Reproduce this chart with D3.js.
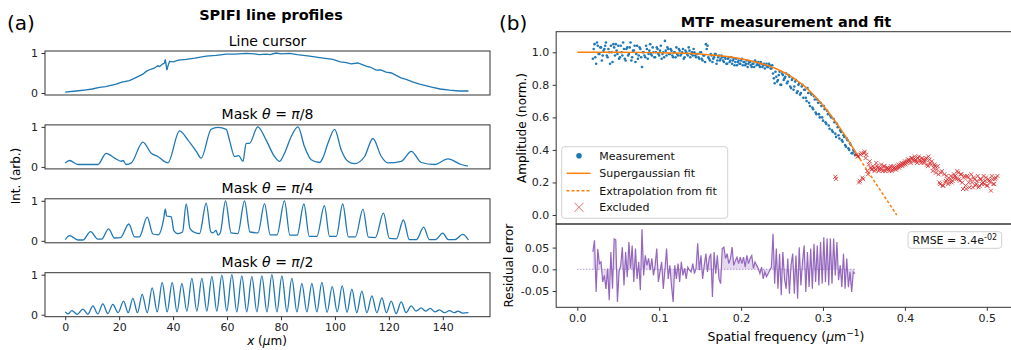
<!DOCTYPE html>
<html>
<head>
<meta charset="utf-8">
<script src="https://cdn.jsdelivr.net/npm/d3@7"></script>
<style>
  body { margin: 0; background: #fff; }
  svg { font-family: "DejaVu Sans", sans-serif; }
</style>
</head>
<body>
<svg id="chart" width="1011" height="350"></svg>
<script>
// ---- panel (a): line profiles, [x (um), intensity] ----
const cursorProfile = [[0,0.02],[4,0.05],[7.8,0.08],[10,0.1],[12.7,0.14],[15,0.16],[18.9,0.22],[21,0.27],[23.8,0.31],[26,0.38],[28.8,0.47],[30,0.54],[31.9,0.6],[33,0.62],[34.3,0.68],[35,0.66],[36,0.72],[36.8,0.75],[37.1,0.84],[37.7,0.57],[38.3,0.72],[38.7,0.79],[40,0.78],[42,0.82],[44.9,0.84],[48,0.87],[52.3,0.92],[56,0.94],[59.7,0.97],[63,0.97],[67.1,0.99],[70,0.98],[72,0.96],[74.5,0.97],[76,0.96],[78.2,1.0],[80,0.98],[83.2,0.99],[86,0.96],[90.6,0.92],[95,0.88],[99.2,0.84],[102,0.78],[104.2,0.76],[106,0.73],[108.5,0.75],[111.6,0.67],[113,0.65],[115.3,0.57],[117,0.58],[119,0.52],[121,0.5],[122.7,0.44],[124.5,0.38],[126.4,0.34],[129,0.27],[131.4,0.22],[134,0.18],[136.3,0.14],[139,0.1],[142.5,0.07],[146,0.05],[149.5,0.05]];

const pi8Profile = [[0,0.1],[1.6,0.16],[4.7,0.06],[12.1,0.06],[15.2,0.34],[18.3,0.22],[20.75,0.14],[21.4,0.16],[22.6,0.06],[24.5,0.1],[28.8,0.62],[31.9,0.34],[34.3,0.26],[38.05,0.1],[42.4,0.9],[45.5,0.67],[48.6,0.39],[50.4,0.22],[54.1,0.94],[56.6,0.99],[59.7,0.94],[60.9,0.67],[62.8,0.26],[64.3,0.28],[65.9,0.14],[67.1,0.59],[68.3,0.59],[71.4,1.0],[74.5,0.67],[77.6,0.26],[79.5,0.14],[81.3,0.34],[83.8,0.76],[86.3,1.0],[88.7,0.51],[91.2,0.18],[94.3,0.11],[95.5,0.22],[97.4,0.59],[99.9,0.94],[102.3,0.43],[104.8,0.14],[107.3,0.08],[111,0.26],[114.1,0.71],[117.2,0.26],[119.6,0.1],[124.6,0.14],[128.3,0.39],[132,0.11],[136.9,0.06],[141.9,0.2],[146.8,0.06],[149.3,0.02]];

const pi4Profile = [[0,0.03],[1.6,0.13],[4.7,0.02],[6.5,0.02],[9.4,0.23],[12.1,0.04],[13.5,0.04],[16.05,0.3],[18.3,0.07],[20.5,0.08],[23.6,0.42],[25.7,0.1],[27.5,0.1],[30.4,0.59],[32.5,0.17],[34.5,0.15],[36.5,0.55],[37.1,0.79],[37.6,0.62],[39.3,0.6],[40.3,0.25],[41.8,0.18],[43.5,0.22],[44.85,0.92],[46.3,0.3],[48.6,0.19],[49.8,0.18],[52.27,0.94],[54,0.22],[54.74,0.2],[55.97,0.26],[56.6,0.14],[57.5,0.2],[59.44,1.0],[61.5,0.2],[64,0.18],[66.48,1.0],[68.5,0.22],[71.5,0.2],[73.9,0.93],[76,0.15],[78.5,0.15],[81.3,1.0],[83.3,0.14],[86,0.14],[88.5,0.92],[90.5,0.11],[93.3,0.11],[96.1,0.88],[98,0.11],[100.5,0.11],[102.9,0.92],[105,0.1],[107.6,0.1],[110.4,0.79],[112.4,0.09],[115,0.08],[118,0.69],[120.2,0.06],[122.8,0.05],[125.4,0.52],[127.6,0.03],[130.2,0.03],[132.9,0.34],[135,0.03],[137.3,0.03],[140,0.19],[142,0.03],[144.5,0.03],[147.4,0.16],[149.5,0.02]];

const pi2Profile = [[0,0.07],[1,0.02],[2.46,0.1],[4.5,0.01],[6.54,0.14],[8.4,0.01],[10.25,0.22],[12.1,0.02],[13.95,0.27],[15.8,0.03],[17.66,0.26],[19.6,0.05],[21.62,0.34],[23.35,0.05],[25.08,0.41],[26.8,0.05],[28.54,0.51],[30.4,0.05],[32.25,0.67],[34.1,0.07],[35.95,0.81],[37.8,0.07],[39.66,0.81],[41.45,0.07],[43.25,0.78],[45.1,0.09],[46.95,0.91],[48.8,0.09],[50.66,0.91],[52.5,0.09],[54.37,0.95],[56.2,0.09],[58.08,0.99],[59.9,0.09],[61.78,1.0],[63.6,0.07],[65.49,0.97],[67.3,0.07],[69.2,0.95],[71.05,0.07],[72.91,0.97],[74.8,0.07],[76.62,1.0],[78.5,0.07],[80.33,0.97],[82.2,0.07],[84.03,0.91],[85.9,0.07],[87.74,0.78],[89.6,0.07],[91.45,0.78],[93.3,0.07],[95.16,0.81],[97.1,0.06],[98.99,0.7],[100.85,0.07],[102.7,0.72],[104.5,0.06],[106.28,0.64],[108.1,0.05],[109.99,0.59],[111.85,0.05],[113.7,0.47],[115.55,0.05],[117.41,0.42],[119.1,0.05],[120.87,0.34],[122.7,0.03],[124.57,0.32],[126.4,0.05],[128.28,0.22],[130.1,0.09],[131.99,0.17],[133.6,0.09],[135.33,0.16],[137.1,0.07],[138.79,0.12],[140.6,0.05],[142.49,0.1],[144.3,0.05],[145.6,0.09],[147.4,0.04],[149.5,0.05]];

const profileTitles = [
  [["Line cursor", false]],
  [["Mask ", false], ["\u03b8", true], [" = ", false], ["\u03c0", true], ["/8", false]],
  [["Mask ", false], ["\u03b8", true], [" = ", false], ["\u03c0", true], ["/4", false]],
  [["Mask ", false], ["\u03b8", true], [" = ", false], ["\u03c0", true], ["/2", false]]
];
const profileTicksX = [0, 20, 40, 60, 80, 100, 120, 140];

// ---- panel (b): MTF ----
// measurement samples, two interleaved sets (odd/even frequency bins)
const measStart = 0.019, measStep = 0.002;
const measAmp = [
  0.96,1.05,0.93,1.04,0.99,1.03,0.98,1.02,1.06,0.97,1.0,1.04,0.94,1.03,1.05,
  0.99,0.96,1.04,0.98,1.02,0.95,1.03,0.99,1.06,0.97,1.01,0.94,1.04,0.98,1.02,0.91,
  1.0,0.97,1.02,0.99,1.05,0.98,1.0,0.97,1.03,0.99,1.01,0.96,1.0,1.07,0.98,1.02,
  0.99,1.01,0.97,1.0,1.03,0.98,1.01,0.99,1.02,0.97,1.0,0.98,1.01,0.99,0.98,1.0,
  0.97,0.99,0.96,1.0,0.95,0.98,1.05,1.04,0.96,0.99,0.94,0.97,0.99,0.95,0.98,0.96,
  0.97,0.94,0.96,0.93,0.97,0.95,0.93,0.96,0.94,0.92,0.95,0.93,0.96,0.94,0.92,0.95,
  0.93,0.94,0.91,0.93,0.95,0.92,0.94,0.91,0.93,0.92,0.9,0.93,0.91,0.92,0.9,
  0.87,0.81,0.85,0.83,0.88,0.8,0.86,0.84,0.87,0.82,0.85,
  0.78,0.84,0.79,0.83,0.76,0.81,0.75,0.8,0.77,0.72,
  0.78,0.69,0.75,0.66,0.73,0.63,0.71,0.62,0.69,0.6,
  0.67,0.57,0.64,0.55,0.61,0.52,0.59,0.5,0.56,0.49,
  0.52,0.46,0.49,0.43,0.47,0.41,0.44,0.38,0.4,0.37
];
const measStartB = 0.020;
const measAmpB = [
  1.02,0.97,1.06,0.99,1.03,0.95,1.01,1.04,0.98,1.02,0.93,1.0,1.05,0.98,1.01,
  1.04,0.97,1.0,1.06,0.96,1.02,0.98,1.03,0.95,1.01,1.04,0.99,0.96,1.03,0.97,1.0,
  0.98,1.04,0.96,1.01,0.99,1.03,0.97,1.0,1.02,0.98,1.04,0.99,0.97,1.01,1.03,0.99,
  1.02,0.98,1.0,0.97,0.99,1.02,0.98,1.0,0.96,1.01,0.99,1.03,0.97,1.0,1.02,0.98,
  0.99,0.97,1.0,0.96,0.98,0.94,1.02,0.97,0.95,0.98,0.96,0.99,0.93,0.97,0.95,0.98,
  0.95,0.97,0.93,0.96,0.94,0.97,0.95,0.92,0.96,0.94,0.93,0.95,0.92,0.94,0.93,0.91,
  0.94,0.92,0.93,0.91,0.94,0.93,0.92,0.94,0.91,0.93,0.92,0.91,0.93,0.9,0.92,
  0.84,0.88,0.82,0.86,0.8,0.87,0.83,0.85,0.81,0.86,0.79,
  0.83,0.77,0.82,0.75,0.8,0.74,0.79,0.72,0.77,0.7,
  0.75,0.67,0.74,0.65,0.71,0.62,0.69,0.6,0.67,0.58,
  0.65,0.56,0.62,0.53,0.6,0.51,0.57,0.48,0.54,0.47,
  0.51,0.45,0.48,0.42,0.46,0.4,0.43,0.38,0.39
];
const residual = [
  0.040,0.067,-0.052,0.047,0.013,0.017,-0.029,-0.014,-0.045,0.002,
  -0.071,0.040,-0.045,0.070,0.068,-0.075,-0.006,0.009,0.051,-0.037,
  0.040,-0.018,0.063,0.002,0.055,-0.029,0.048,-0.022,0.017,-0.048,
  0.092,-0.014,0.032,0.009,0.025,-0.002,0.025,-0.014,0.009,0.048,
  -0.029,-0.006,0.017,-0.045,-0.002,0.048,-0.022,0.009,-0.037,-0.075,
  0.009,-0.022,0.013,-0.029,0.017,-0.014,0.002,-0.022,0.005,-0.002,
  -0.006,0.013,-0.010,0.002,0.060,-0.002,0.032,-0.022,0.009,0.036,
  -0.006,0.025,0.036,-0.064,0.040,-0.010,0.032,-0.022,-0.033,0.048,
  0.051,0.025,0.036,0.013,0.025,0.051,0.009,0.020,0.028,0.013,
  0.028,0.013,0.028,0.005,0.032,0.013,0.025,0.032,0.002,0.017,
  0.009,0.002,-0.010,0.005,-0.022,-0.006,-0.017,-0.010,-0.002,0.005,
  0.082,-0.033,0.048,-0.045,0.036,-0.060,0.040,-0.022,-0.045,0.025,
  -0.056,0.009,0.036,-0.056,0.032,-0.068,0.051,-0.037,0.017,0.055,
  -0.052,0.040,-0.041,0.048,-0.045,0.059,-0.029,0.055,-0.037,0.063,
  -0.033,0.074,-0.029,0.071,-0.037,0.071,-0.033,0.071,-0.014,0.063,
  -0.025,0.009,-0.041,0.036,-0.045,0.025,-0.041,-0.006,-0.052,-0.006,
  -0.010
];
const exclStart = 0.341, exclStep = 0.002;
const exclAmp = [
  0.37,0.36,0.21,0.38,0.22,0.39,0.37,0.25,0.33,0.28,
  0.30,0.27,0.32,0.29,0.28,0.31,0.27,0.30,0.28,0.29,
  0.27,0.30,0.28,0.29,0.28,0.30,0.29,0.31,0.30,0.32,
  0.31,0.33,0.34,0.32,0.35,0.33,0.34,0.32,0.36,0.33,
  0.35,0.32,0.34,0.31,0.36,0.32,0.33,0.29,0.30,0.28,
  0.25,0.19,0.27,0.18,0.20,0.24,0.19,0.22,0.20,0.23,
  0.24,0.22,0.26,0.21,0.25,0.16,0.24,0.16,0.23,0.17,
  0.25,0.17,0.22,0.19,0.24,0.18,0.22,0.20,0.19,0.23,
  0.18,0.21,0.15,0.22,0.19,0.23,0.24
];
const exclStartB = 0.342;
const exclAmpB = [
  0.36,0.20,0.37,0.23,0.38,0.35,0.27,0.31,0.29,0.28,
  0.29,0.28,0.30,0.27,0.29,0.28,0.30,0.27,0.29,0.28,
  0.29,0.27,0.30,0.28,0.29,0.31,0.30,0.32,0.31,0.33,
  0.32,0.34,0.33,0.35,0.34,0.36,0.33,0.35,0.34,0.32,
  0.34,0.33,0.35,0.30,0.34,0.31,0.27,0.31,0.26,0.30,
  0.20,0.26,0.18,0.25,0.21,0.22,0.20,0.24,0.21,0.25,
  0.23,0.27,0.22,0.25,0.20,0.23,0.18,0.24,0.20,0.22,
  0.20,0.23,0.18,0.21,0.17,0.22,0.19,0.24,0.21,0.18,
  0.22,0.20,0.24,0.19,0.22
];
const exclOutliers = [[0.315, 0.235], [0.316, 0.222]];
const fitCurve = [[0,1.0],[0.05,1.0],[0.1,0.998],[0.12,0.996],[0.14,0.992],[0.16,0.985],[0.18,0.975],[0.2,0.96],[0.22,0.937],[0.24,0.905],[0.25,0.882],[0.26,0.855],[0.27,0.82],[0.28,0.78],[0.29,0.73],[0.3,0.675],[0.31,0.61],[0.32,0.54],[0.33,0.465],[0.34,0.385],[0.345,0.345]];
const extrapCurve = [[0.345,0.345],[0.35,0.305],[0.36,0.228],[0.37,0.152],[0.38,0.076],[0.39,0.0]];
const ampTicks = [0, 0.2, 0.4, 0.6, 0.8, 1.0];
const resTicks = [-0.05, 0, 0.05];
const resTickLabels = ["-0.05", "0.0", "0.05"];
const freqTicks = [0, 0.1, 0.2, 0.3, 0.4, 0.5];
const legendItems = ["Measurement", "Supergaussian fit", "Extrapolation from fit", "Excluded"];

const blue = "#1f77b4", orange = "#ff7f0e", red = "#d62728", purple = "#9467bd";
const spine = "#333", tickFont = 11;

const svg = d3.select("#chart");
svg.append("rect").attr("width", 1011).attr("height", 350).attr("fill", "#fff");

function addRichText(g, parts) {
  parts.forEach(([t, it]) => g.append("tspan").attr("font-style", it ? "italic" : null).text(t));
}

function frame(x0, y0, x1, y1) {
  svg.append("rect").attr("x", x0).attr("y", y0).attr("width", x1 - x0).attr("height", y1 - y0)
    .attr("fill", "none").attr("stroke", spine).attr("stroke-width", 1);
}

function styleAxis(g) {
  g.select(".domain").remove();
  g.selectAll("line").attr("stroke", spine);
  g.selectAll("text").attr("font-size", tickFont).attr("font-family", "DejaVu Sans").attr("fill", "#222");
}

// ================= panel (a) =================
const px = d3.scaleLinear().domain([-7.5, 157.5]).range([45, 490]);
const profiles = [cursorProfile, pi8Profile, pi4Profile, pi2Profile];
const subH = 44;

svg.append("text").attr("x", 7).attr("y", 30).attr("font-size", 20).text("(a)");
svg.append("text").attr("x", 271).attr("y", 20).attr("text-anchor", "middle")
  .attr("font-size", 14.5).attr("font-weight", "bold").text("SPIFI line profiles");

profiles.forEach((data, i) => {
  const top = 51 + i * 73.9;
  const py = d3.scaleLinear().domain([-0.05, 1.05]).range([top + subH, top]);

  const t = svg.append("text").attr("x", 267.5).attr("y", top - 5.5)
    .attr("text-anchor", "middle").attr("font-size", 14);
  addRichText(t, profileTitles[i]);

  const line = d3.line().x(d => px(d[0])).y(d => py(d[1]))
    .curve(i === 0 ? d3.curveLinear : d3.curveMonotoneX);
  svg.append("path").datum(data).attr("d", line)
    .attr("fill", "none").attr("stroke", blue).attr("stroke-width", 1.3);

  styleAxis(svg.append("g").attr("transform", `translate(45,0)`)
    .call(d3.axisLeft(py).tickValues([0, 1]).tickFormat(d3.format("d")).tickSize(3.5).tickPadding(3.5)));

  if (i === 3) {
    styleAxis(svg.append("g").attr("transform", `translate(0,${top + subH})`)
      .call(d3.axisBottom(px).tickValues(profileTicksX).tickFormat(d3.format("d")).tickSize(3.5).tickPadding(3.5)));
  }
  frame(45, top, 490, top + subH);
});

svg.append("text").attr("transform", "translate(16,176) rotate(-90)").attr("dy", "0.35em")
  .attr("text-anchor", "middle").attr("font-size", 12).text("Int. (arb.)");
const xl = svg.append("text").attr("x", 267).attr("y", 345).attr("text-anchor", "middle").attr("font-size", 12);
addRichText(xl, [["x", true], [" (", false], ["\u03bc", true], ["m)", false]]);

// ================= panel (b) =================
const fx = d3.scaleLinear().domain([0, 0.5]).range([577.3, 986.8]);
const topAx = { x0: fx(-0.0258), x1: fx(0.548), y0: 31.7, y1: 224 };
const botAx = { y0: 224, y1: 307.3 };
const ay = d3.scaleLinear().domain([0, 1]).range([215, 52.3]);
const ry = d3.scaleLinear().domain([0, 0.05]).range([269.3, 247.6]);

svg.append("text").attr("x", 499).attr("y", 30).attr("font-size", 20).text("(b)");
svg.append("text").attr("x", 786).attr("y", 26.5).attr("text-anchor", "middle")
  .attr("font-size", 14.5).attr("font-weight", "bold").text("MTF measurement and fit");

const defs = svg.append("defs");
defs.append("clipPath").attr("id", "clipTop").append("rect")
  .attr("x", topAx.x0).attr("y", topAx.y0).attr("width", topAx.x1 - topAx.x0).attr("height", topAx.y1 - topAx.y0);
defs.append("clipPath").attr("id", "clipBot").append("rect")
  .attr("x", topAx.x0).attr("y", botAx.y0).attr("width", topAx.x1 - topAx.x0).attr("height", botAx.y1 - botAx.y0);

const measData = measAmp.map((v, i) => [measStart + i * measStep, v])
  .concat(measAmpB.map((v, i) => [measStartB + i * measStep, v]));
const exclData = exclAmp.map((v, i) => [exclStart + i * exclStep, v])
  .concat(exclAmpB.map((v, i) => [exclStartB + i * exclStep, v]), exclOutliers);
const resData = residual.map((v, i) => [measStart + i * measStep, v]);

const gTop = svg.append("g").attr("clip-path", "url(#clipTop)");
const fitLine = d3.line().x(d => fx(d[0])).y(d => ay(d[1])).curve(d3.curveMonotoneX);

gTop.selectAll("circle.meas").data(measData).join("circle").attr("class", "meas")
  .attr("cx", d => fx(d[0])).attr("cy", d => ay(d[1])).attr("r", 1.3).attr("fill", blue);
gTop.append("path").datum(fitCurve).attr("d", fitLine)
  .attr("fill", "none").attr("stroke", orange).attr("stroke-width", 1.5);
gTop.append("path").datum(extrapCurve).attr("d", fitLine)
  .attr("fill", "none").attr("stroke", orange).attr("stroke-width", 1.5).attr("stroke-dasharray", "3,2");

function xMark(g, cx, cy, s, color, w, op) {
  g.append("path").attr("d", `M${cx - s},${cy - s}L${cx + s},${cy + s}M${cx - s},${cy + s}L${cx + s},${cy - s}`)
    .attr("stroke", color).attr("stroke-width", w).attr("opacity", op).attr("fill", "none");
}
exclData.forEach(d => xMark(gTop, fx(d[0]), ay(d[1]), 2, red, 1, 0.8));

styleAxis(svg.append("g").attr("transform", `translate(${topAx.x0},0)`)
  .call(d3.axisLeft(ay).tickValues(ampTicks).tickFormat(d3.format(".1f")).tickSize(3.5).tickPadding(3.5)));

// legend
const lg = svg.append("g");
lg.append("rect").attr("x", 561.7).attr("y", 146.7).attr("width", 166).attr("height", 71.6).attr("rx", 3)
  .attr("fill", "#fff").attr("fill-opacity", 0.85).attr("stroke", "#d0d0d0").attr("stroke-width", 1);
const rowY = [155.7, 173.3, 190.7, 207.3];
lg.append("circle").attr("cx", 579).attr("cy", rowY[0]).attr("r", 2.8).attr("fill", blue);
lg.append("line").attr("x1", 566.5).attr("x2", 590.5).attr("y1", rowY[1]).attr("y2", rowY[1])
  .attr("stroke", orange).attr("stroke-width", 1.5);
lg.append("line").attr("x1", 566.5).attr("x2", 590.5).attr("y1", rowY[2]).attr("y2", rowY[2])
  .attr("stroke", orange).attr("stroke-width", 1.5).attr("stroke-dasharray", "3,2");
xMark(lg, 579, rowY[3], 4.5, red, 0.9, 0.75);
legendItems.forEach((t, i) => lg.append("text").attr("x", 599.3).attr("y", rowY[i] + 4)
  .attr("font-size", 11).attr("fill", "#111").text(t));

// residual axes
const gBot = svg.append("g").attr("clip-path", "url(#clipBot)");
const resArea = d3.area().x(d => fx(d[0])).y0(ry(0)).y1(d => ry(d[1]));
const resLine = d3.line().x(d => fx(d[0])).y(d => ry(d[1]));
gBot.append("path").datum(resData).attr("d", resArea).attr("fill", purple).attr("fill-opacity", 0.25);
gBot.append("line").attr("x1", fx(0)).attr("x2", fx(resData[resData.length - 1][0]))
  .attr("y1", ry(0)).attr("y2", ry(0)).attr("stroke", purple).attr("stroke-width", 1).attr("stroke-dasharray", "1,2");
gBot.append("path").datum(resData).attr("d", resLine)
  .attr("fill", "none").attr("stroke", purple).attr("stroke-width", 1.2);

styleAxis(svg.append("g").attr("transform", `translate(${topAx.x0},0)`)
  .call(d3.axisLeft(ry).tickValues(resTicks).tickFormat((d, i) => resTickLabels[i]).tickSize(3.5).tickPadding(3.5)));
styleAxis(svg.append("g").attr("transform", `translate(0,${botAx.y1})`)
  .call(d3.axisBottom(fx).tickValues(freqTicks).tickFormat(d3.format(".1f")).tickSize(3.5).tickPadding(3.5)));

// RMSE box
svg.append("rect").attr("x", 908).attr("y", 231.7).attr("width", 93.7).attr("height", 16.6).attr("rx", 3)
  .attr("fill", "#fff").attr("stroke", "#d0d0d0").attr("stroke-width", 1);
const rm = svg.append("text").attr("x", 912.5).attr("y", 244).attr("font-size", 11).attr("fill", "#111");
rm.append("tspan").text("RMSE = 3.4e");
rm.append("tspan").attr("font-size", 8).attr("dy", -4).text("-02");

frame(topAx.x0, topAx.y0, topAx.x1, topAx.y1);
frame(topAx.x0, botAx.y0, topAx.x1, botAx.y1);

svg.append("text").attr("transform", "translate(522,128) rotate(-90)").attr("dy", "0.35em")
  .attr("text-anchor", "middle").attr("font-size", 12).text("Amplitude (norm.)");
svg.append("text").attr("transform", "translate(509,265.7) rotate(-90)").attr("dy", "0.35em")
  .attr("text-anchor", "middle").attr("font-size", 12).text("Residual error");
const sf = svg.append("text").attr("x", 786).attr("y", 340.5).attr("text-anchor", "middle").attr("font-size", 12.5);
sf.append("tspan").text("Spatial frequency (");
sf.append("tspan").attr("font-style", "italic").text("\u03bc");
sf.append("tspan").text("m");
sf.append("tspan").attr("font-size", 9).attr("dy", -5).text("\u22121");
sf.append("tspan").attr("dy", 5).text(")");
</script>
</body>
</html>
